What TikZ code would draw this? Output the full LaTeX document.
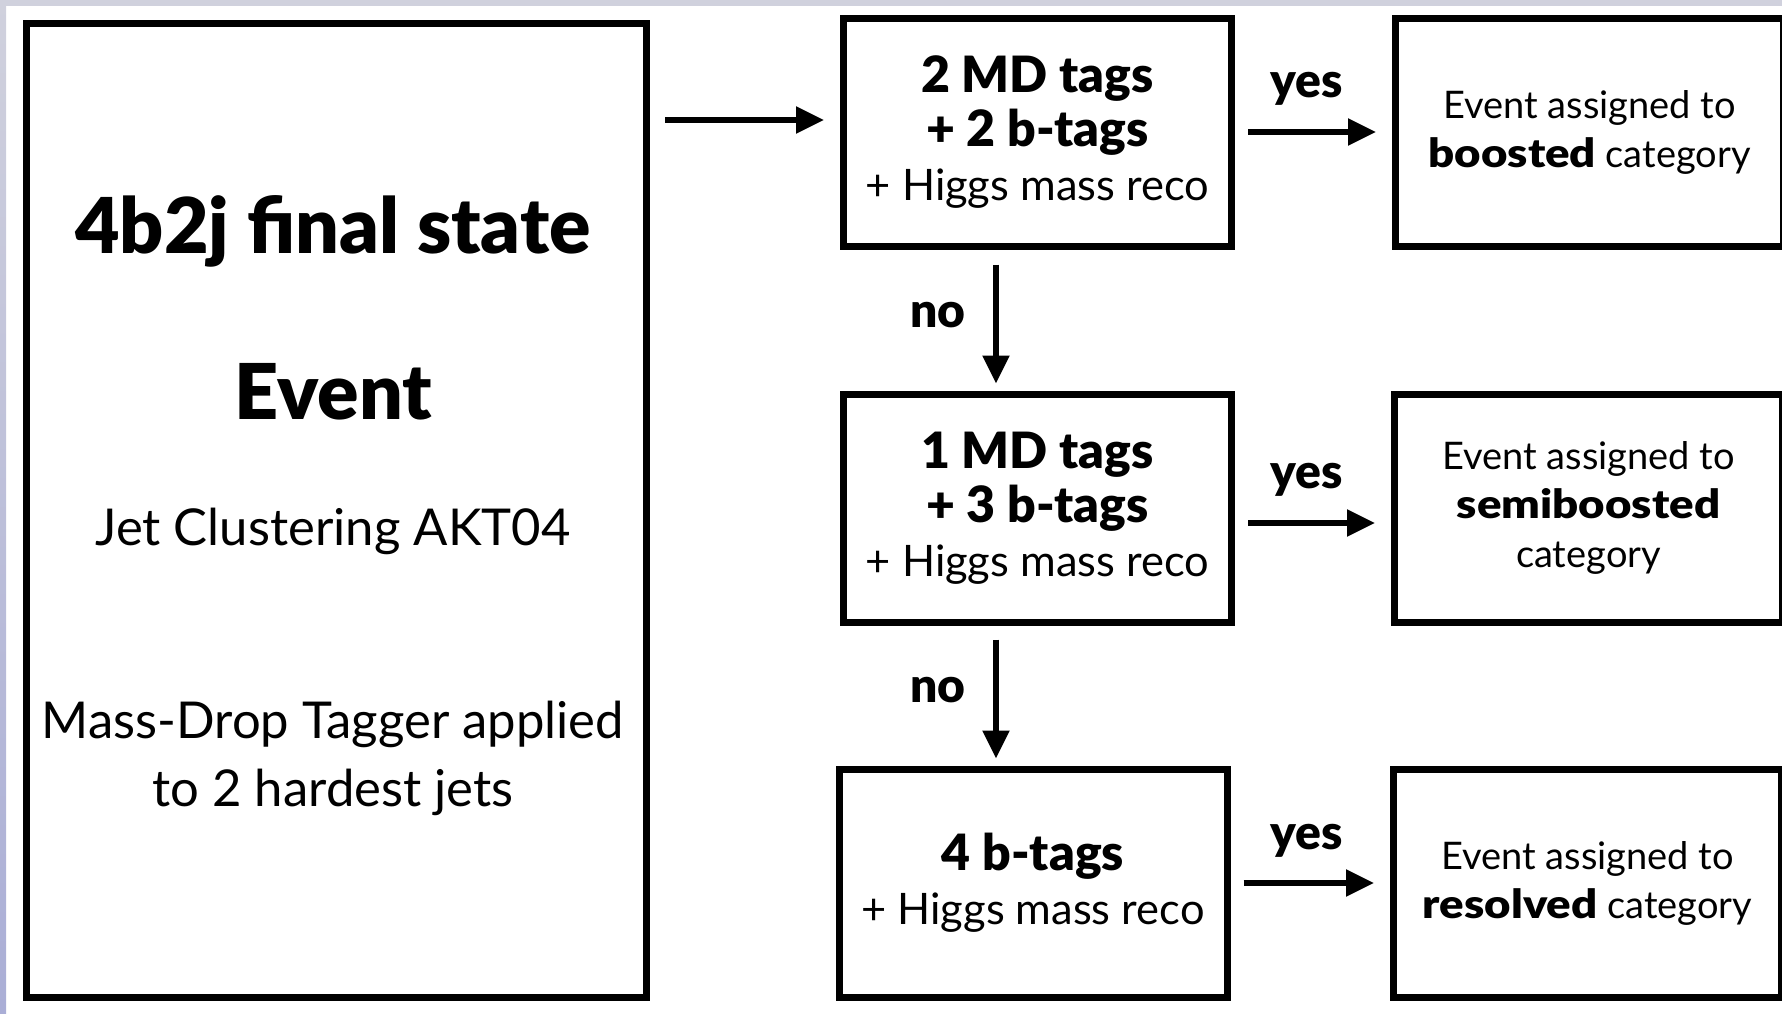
\documentclass[tikz,border=0pt]{standalone}
\usepackage{fontspec}
\usepackage{graphicx}
\setmainfont{Lato}[BoldFont={Lato Black}]
\usetikzlibrary{arrows.meta}
\definecolor{bandtop}{HTML}{D0D1DD}
\definecolor{bandbot}{HTML}{AAAED6}
\tikzset{
  box/.style={draw=black, line width=3.5pt, fill=white, align=center, inner sep=0pt},
  leftbox/.style={box, minimum width=310pt, minimum height=487pt},
  testbox/.style={box, minimum width=194pt, minimum height=114pt, font=\fontsize{21.7}{27}\selectfont},
  catbox/.style={box, minimum width=194pt, minimum height=114pt, font=\fontsize{19}{24.5}\selectfont},
  arr/.style={line width=2.8pt, -{Triangle[length=14pt,width=13pt]}},
  lbl/.style={font=\fontsize{24}{27}\bfseries\selectfont, inner sep=0pt},
  bigtxt/.style={font=\fontsize{38.5}{42}\bfseries\selectfont, inner sep=0pt},
  midtxt/.style={font=\fontsize{25.4}{34}\selectfont, align=center, inner sep=0pt}
}
\newcommand{\bline}[1]{\textbf{\fontsize{25}{27}\selectfont #1}}
\newcommand{\wbold}[1]{\scalebox{1.2}[1.05]{\textbf{#1}}}
\begin{document}
\begin{tikzpicture}[x=0.5pt,y=-0.5pt]
\useasboundingbox (0,0) rectangle (1782,1013);
\clip (0,0) rectangle (1782,1013);
% background bands
\fill[bandtop] (0,0) rectangle (1782,6);
\shade[top color=bandtop, bottom color=bandbot] (0,0) rectangle (6,1013);
% left box
\node[leftbox] (left) at (336.5,510) {};
\node[bigtxt] (t1) at (333,231) {4b2j final state};
\node[bigtxt] (t2) at (333,392) {Event};
\node[midtxt] (t3) at (333,531) {Jet Clustering AKT04};
\node[midtxt] (t4) at (333,758) {Mass-Drop Tagger applied\\to 2 hardest jets};
% test boxes
\node[testbox] (b1) at (1037.5,132) {\bline{2 MD tags}\\\bline{+ 2 b-tags}\\+ Higgs mass reco};
\node[testbox] (b2) at (1037.5,508) {\bline{1 MD tags}\\\bline{+ 3 b-tags}\\+ Higgs mass reco};
\node[testbox] (b3) at (1033,883) {\bline{4 b-tags}\\+ Higgs mass reco};
% category boxes
\node[catbox] (r1) at (1589.5,132) {Event assigned to\\\wbold{boosted} category};
\node[catbox] (r2) at (1588.5,508) {Event assigned to\\\wbold{semiboosted}\\category};
\node[catbox] (r3) at (1587.5,883) {Event assigned to\\\wbold{resolved} category};
% arrows
\draw[arr, shorten <=7.5pt, shorten >=8pt] (left.east |- 0,120) -- (b1.west |- 0,120);
\draw[arr, shorten <=6.5pt, shorten >=8pt] (b1.east) -- (r1.west);
\draw[arr, shorten <=6.5pt, shorten >=8pt] ([yshift=-7.5pt]b2.east) -- ([yshift=-7.5pt]r2.west);
\draw[arr, shorten <=6.5pt, shorten >=8pt] (b3.east) -- (r3.west);
\draw[arr, shorten <=7.5pt, shorten >=3.5pt] (b1.south -| 996,0) -- (b2.north -| 996,0);
\draw[arr, shorten <=7pt, shorten >=3.5pt] (b2.south -| 996,0) -- (b3.north -| 996,0);
% labels
\node[lbl] (y1) at (1307,89) {yes};
\node[lbl] (y2) at (1307,480) {yes};
\node[lbl] (y3) at (1307,841) {yes};
\node[lbl] (n1) at (938,315) {no};
\node[lbl] (n2) at (938,690) {no};
\end{tikzpicture}
\end{document}
